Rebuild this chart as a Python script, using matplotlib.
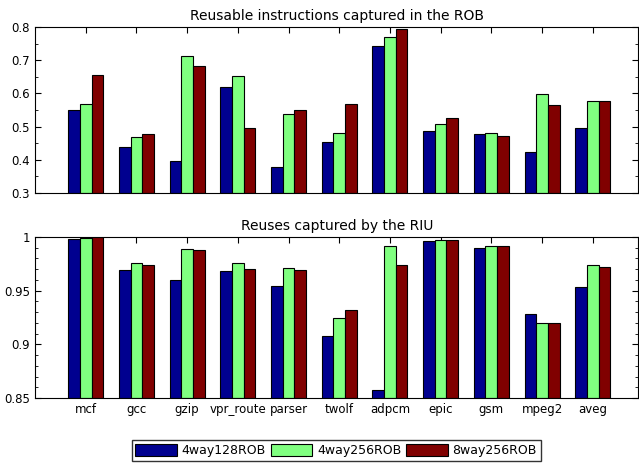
import numpy as np
import matplotlib.pyplot as plt
from matplotlib.ticker import MultipleLocator

benchmarks = ['mcf', 'gcc', 'gzip', 'vpr_route', 'parser', 'twolf',
              'adpcm', 'epic', 'gsm', 'mpeg2', 'aveg']
configs = ['4way128ROB', '4way256ROB', '8way256ROB']
colors = ['#00008F', '#80FF80', '#800000']

# reusable instructions captured in the ROB
rob_4w128 = [0.550, 0.440, 0.395, 0.620, 0.378, 0.453, 0.743, 0.487, 0.478, 0.423, 0.497]
rob_4w256 = [0.567, 0.470, 0.713, 0.652, 0.537, 0.482, 0.771, 0.507, 0.481, 0.598, 0.578]
rob_8w256 = [0.655, 0.477, 0.683, 0.497, 0.550, 0.567, 0.794, 0.525, 0.473, 0.565, 0.578]

# reuses captured by the RIU
riu_4w128 = [0.998, 0.969, 0.960, 0.968, 0.954, 0.908, 0.857, 0.9966, 0.990, 0.928, 0.953]
riu_4w256 = [0.999, 0.976, 0.989, 0.976, 0.971, 0.9245, 0.992, 0.9975, 0.9916, 0.920, 0.9736]
riu_8w256 = [1.000, 0.9736, 0.988, 0.970, 0.969, 0.932, 0.974, 0.9975, 0.9916, 0.920, 0.9718]

x = np.arange(1, len(benchmarks) + 1)
w = 0.23

fig = plt.figure(figsize=(6.39, 4.66), dpi=100)
ax1 = fig.add_axes([0.0548, 0.5858, 0.9442, 0.3562])
ax2 = fig.add_axes([0.0548, 0.1459, 0.9442, 0.3455])


def draw(ax, series, ylim, major, minor, title):
    for i, vals in enumerate(series):
        ax.bar(x + (i - 1) * w, np.array(vals) - ylim[0], w, bottom=ylim[0],
               color=colors[i], edgecolor='black', linewidth=0.8,
               label=configs[i])
    ax.set_xlim(0, 11.9)
    ax.set_ylim(*ylim)
    ax.set_xticks(x)
    ax.yaxis.set_major_locator(MultipleLocator(major))
    ax.yaxis.set_minor_locator(MultipleLocator(minor))
    ax.tick_params(which='both', direction='in', top=True, right=True,
                   labelsize=8.5)
    ax.tick_params(which='major', length=4)
    ax.tick_params(which='minor', length=2)
    ax.set_axisbelow(True)
    ax.set_title(title, fontsize=10, pad=5)


draw(ax1, [rob_4w128, rob_4w256, rob_8w256], (0.3, 0.8), 0.1, 0.05,
     'Reusable instructions captured in the ROB')
ax1.set_xticklabels([])
ax1.set_yticks([0.3, 0.4, 0.5, 0.6, 0.7, 0.8])
ax1.set_yticklabels(['0.3', '0.4', '0.5', '0.6', '0.7', '0.8'])

draw(ax2, [riu_4w128, riu_4w256, riu_8w256], (0.85, 1.0), 0.05, 0.01,
     'Reuses captured by the RIU')
ax2.set_xticklabels(benchmarks)
ax2.set_yticks([0.85, 0.9, 0.95, 1.0])
ax2.set_yticklabels(['0.85', '0.9', '0.95', '1'])

handles, labels = ax2.get_legend_handles_labels()
fig.legend(handles, labels, loc='center', bbox_to_anchor=(0.526, 0.034),
           ncol=3, fontsize=9, frameon=True, fancybox=False,
           edgecolor='black', handlelength=3.3, handleheight=1.1,
           columnspacing=0.4, handletextpad=0.4, borderpad=0.3)

fig.savefig('out.png', dpi=100)
